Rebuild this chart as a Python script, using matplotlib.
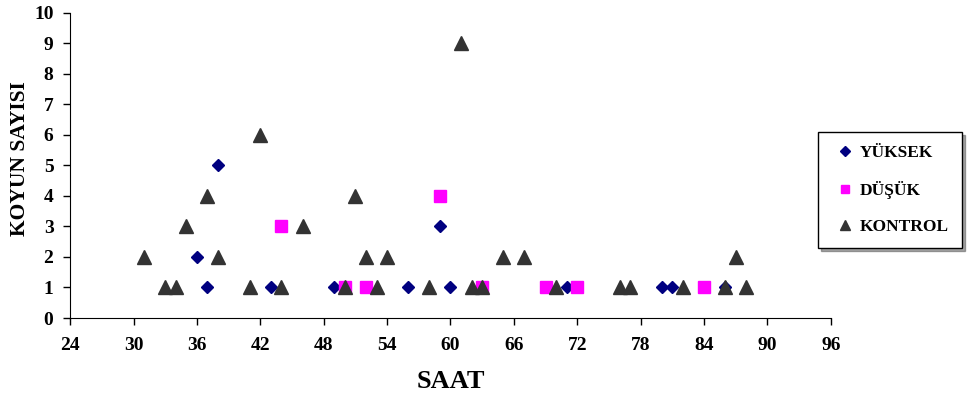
import matplotlib.pyplot as plt

plt.rcParams['font.family'] = ['Liberation Serif', 'DejaVu Serif']
plt.rcParams['font.weight'] = 'bold'

# saat / koyun sayisi, each group
yuksek_saat = [36, 37, 38, 43, 49, 56, 59, 60, 71, 80, 81, 86]
yuksek_sayi = [2, 1, 5, 1, 1, 1, 3, 1, 1, 1, 1, 1]

dusuk_saat = [44, 50, 52, 59, 63, 69, 72, 84]
dusuk_sayi = [3, 1, 1, 4, 1, 1, 1, 1]

kontrol_saat = [31, 33, 34, 35, 37, 38, 41, 42, 44, 46, 50, 51, 52, 53, 54,
                58, 61, 62, 63, 65, 67, 70, 76, 77, 82, 86, 87, 88]
kontrol_sayi = [2, 1, 1, 3, 4, 2, 1, 6, 1, 3, 1, 4, 2, 1, 2,
                1, 9, 1, 1, 2, 2, 1, 1, 1, 1, 1, 2, 1]

fig = plt.figure(figsize=(9.74, 3.98), dpi=100)
ax = fig.add_axes([0.072, 0.201, 0.781, 0.767])

ax.plot(yuksek_saat, yuksek_sayi, 'D', color='#000080', ms=6.3, mec='#000080', ls='none', label='YÜKSEK')
ax.plot(dusuk_saat, dusuk_sayi, 's', color='#FF00FF', ms=8, mec='#FF00FF', ls='none', label='DÜŞÜK')
ax.plot(kontrol_saat, kontrol_sayi, '^', color='#333333', ms=9.5, mec='#333333', ls='none', label='KONTROL')

ax.set_xlim(24, 96)
ax.set_ylim(0, 10)
ax.set_xticks(range(24, 97, 6))
ax.set_yticks(range(0, 11))
ax.spines['top'].set_visible(False)
ax.spines['right'].set_visible(False)
ax.tick_params(direction='out', length=5, width=1, labelsize=14)
ax.tick_params(axis='x', pad=9)
ax.tick_params(axis='y', pad=7)
for lbl in ax.get_xticklabels() + ax.get_yticklabels():
    lbl.set_fontweight('bold')

ax.set_xlabel('SAAT', fontsize=19, fontweight='bold', va='center')
ax.set_ylabel('KOYUN SAYISI', fontsize=15.5, fontweight='bold', va='center')
ax.xaxis.set_label_coords(0.5, -0.207)
ax.yaxis.set_label_coords(-0.066, 0.523)

leg = fig.legend(loc='upper left', bbox_to_anchor=(0.84, 0.668), borderaxespad=0,
                 frameon=True, fancybox=False, shadow=True, edgecolor='black',
                 framealpha=1, fontsize=12.5, labelspacing=1.15, handletextpad=0.05,
                 markerscale=0.8, borderpad=0.75, handlelength=1.6)
for t in leg.get_texts():
    t.set_fontweight('bold')

fig.savefig('out.png', dpi=100)
